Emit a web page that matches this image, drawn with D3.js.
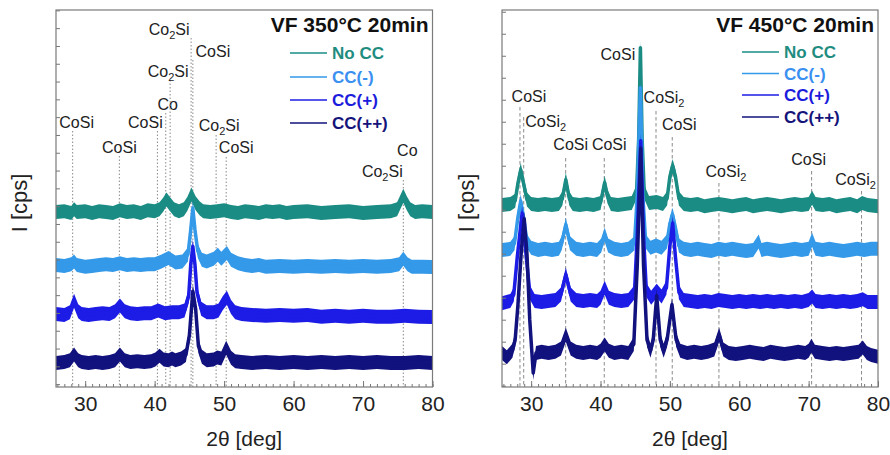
<!DOCTYPE html>
<html><head><meta charset="utf-8">
<script src="https://cdn.jsdelivr.net/npm/d3@7"></script>
<style>
body{margin:0;background:#fff;}
svg{display:block;font-family:Arial,"Liberation Sans",sans-serif;}
</style></head>
<body>
<svg id="c" width="890" height="455"></svg>
<script>
// ---------------- DATA ----------------
const seriesNames = ["No CC", "CC(-)", "CC(+)", "CC(++)"];
const xTickLabels = [30, 40, 50, 60, 70, 80];

// stacking offsets (cps) per series
const offsets350 = [967, 669, 394, 124];
const offsets450 = [821, 617, 385, 149];

// VF 350°C 20min  : [2θ (deg), intensity above baseline (cps)]
const noCC350 = [[25.8,0],[27,5],[28,-5],[28.4,15],[28.8,0],[30,5],[31,-5],[32,5],[33,0],[34,-5],[35,10],[36,0],[37,5],[38,-5],[39,10],[40,5],[40.7,15],[41.2,40],[41.7,70],[42.2,45],[42.8,15],[43.5,5],[44.2,15],[44.7,45],[45.3,98],[45.9,50],[46.5,20],[47,5],[48,0],[49,5],[50,10],[51,0],[52,-5],[53,5],[54,0],[55,-5],[56,5],[57,0],[58,5],[59,-5],[60,0],[62,5],[64,-5],[66,0],[68,5],[70,-5],[72,0],[74,5],[74.9,15],[75.3,50],[75.8,92],[76.3,50],[76.8,15],[77.5,0],[78.5,5],[80,0]];
const ccMinus350 = [[25.8,0],[27,-5],[28,5],[28.4,20],[28.8,0],[30,-10],[31,-5],[32,0],[33,5],[34,0],[35,10],[36,0],[37,5],[38,0],[39,5],[40,5],[41,20],[42,40],[43,15],[44,20],[44.8,60],[45.2,200],[45.5,320],[45.8,200],[46.2,80],[46.8,30],[47.5,20],[48.5,35],[49.1,58],[49.6,35],[50.4,68],[51,30],[52,10],[53,0],[54,-5],[55,0],[56,-10],[58,-5],[60,-10],[62,-5],[64,-10],[66,-5],[68,-10],[70,-5],[72,-10],[74,-5],[75.2,5],[75.8,36],[76.4,5],[77,-10],[78.5,-10],[80,-11]];
const ccPlus350 = [[25.8,0],[27,-5],[27.8,10],[28.4,74],[29.0,15],[29.5,0],[30.5,-5],[31.5,0],[32.5,5],[33.5,0],[34.3,15],[35,48],[35.7,15],[36.5,5],[37.5,0],[38.5,5],[39.5,5],[40.5,20],[41.5,5],[42.5,10],[43.5,10],[44.3,20],[44.9,100],[45.2,280],[45.5,380],[45.8,280],[46.1,120],[46.7,30],[47.5,10],[48.5,10],[49.2,20],[49.8,60],[50.4,92],[51.0,40],[51.6,10],[52.5,0],[54,-5],[56,-10],[58,-5],[60,-10],[62,-5],[64,-15],[66,-10],[68,-15],[70,-10],[72,-15],[74,-15],[76,-10],[78,-15],[80,-17]];
const ccPlusPlus350 = [[25.8,-5],[27,0],[27.8,10],[28.4,42],[29.0,10],[29.5,0],[30.5,-5],[31.5,0],[32.5,-5],[33.5,0],[34.3,10],[35,42],[35.7,10],[36.5,0],[37.5,5],[38.5,0],[39.5,5],[40.1,15],[40.7,36],[41.3,15],[42,10],[42.5,20],[43,10],[43.8,20],[44.5,40],[45,150],[45.5,398],[45.9,300],[46.3,90],[46.8,30],[47.5,10],[48.5,15],[49,26],[49.6,20],[50.3,80],[51.0,25],[51.6,5],[52.5,0],[54,-5],[56,0],[58,-5],[60,0],[62,-5],[64,0],[66,-5],[68,0],[70,-5],[72,0],[74,-5],[76,-5],[78,0],[80,-5]];

// VF 450°C 20min
const noCC450 = [[25.8,0],[27,5],[27.7,20],[28.1,100],[28.5,160],[28.9,100],[29.4,25],[30,5],[31,0],[32,5],[33,0],[34,5],[34.5,30],[35,115],[35.5,30],[36,5],[37,0],[38,5],[39,0],[40,10],[40.2,40],[40.6,102],[41.0,40],[41.5,5],[42.5,0],[43.5,5],[44.5,10],[45.2,60],[45.5,300],[45.75,715],[46.0,300],[46.3,60],[47,10],[48.1,14],[49,5],[49.6,30],[50.0,130],[50.4,178],[50.8,130],[51.3,30],[52,5],[53,0],[54,5],[55,-5],[56,0],[57,5],[58,0],[59,-5],[60,0],[61,5],[62,-5],[63,0],[64,5],[65,0],[66,-5],[67,0],[68,5],[69,0],[70,5],[70.5,33],[71,5],[72,0],[73,5],[74,-5],[75,0],[76,5],[77,-5],[77.7,10],[78.5,0],[80,-5]];
const ccMinus450 = [[25.8,0],[27,5],[27.6,30],[28.1,150],[28.5,222],[28.9,150],[29.4,40],[30,10],[31,0],[32,5],[33,0],[34,5],[34.4,30],[35,115],[35.6,30],[36.5,5],[37.5,0],[38.5,5],[39.5,0],[40.1,20],[40.6,70],[41.1,20],[42,5],[43,0],[44,5],[44.9,30],[45.3,250],[45.75,738],[46.1,250],[46.5,40],[47.2,10],[48,20],[48.8,10],[49.6,40],[50.0,120],[50.4,160],[50.8,100],[51.3,20],[52,5],[53,0],[54,5],[55,0],[56,-5],[57,5],[58,0],[59,5],[60,0],[61,-5],[62,0],[62.8,38],[63.2,0],[64,5],[65,0],[66,-5],[67,0],[68,5],[69,0],[70,5],[70.5,47],[71,5],[72,0],[73,5],[74,0],[75,-5],[76,0],[77,5],[78,0],[79,5],[80,5]];
const ccPlus450 = [[25.8,-10],[27,0],[27.5,30],[28.0,200],[28.7,400],[29.3,200],[29.8,40],[30.5,0],[31.5,-5],[32.5,0],[33.5,5],[34.3,30],[35,120],[35.7,30],[36.5,5],[37.5,0],[38.5,5],[39.5,0],[40.0,15],[40.6,60],[41.2,15],[42,5],[43,0],[44,5],[44.9,40],[45.3,300],[45.8,728],[46.2,300],[46.6,50],[47.3,15],[48.1,47],[48.8,20],[49.5,60],[50,250],[50.4,355],[50.8,200],[51.3,40],[52,5],[53,0],[54,-5],[55,0],[56,-5],[57,5],[58,0],[59,-5],[60,0],[61,-5],[62,0],[63,-5],[64,0],[65,-5],[66,0],[67,-5],[68,0],[69,-5],[70,5],[70.5,20],[71,0],[72,-5],[73,0],[74,-5],[75,0],[76,-5],[77,0],[77.8,8],[78.5,-5],[80,-5]];
const ccPlusPlus450 = [[25.8,0],[26.5,-20],[27.3,10],[27.7,60],[28.1,220],[28.6,470],[29.0,610],[29.4,450],[29.8,150],[30.3,-91],[30.7,0],[31.5,5],[32.5,0],[33.5,5],[34.3,20],[35,83],[35.7,20],[36.5,5],[37.5,0],[38.5,5],[39.5,0],[40.0,10],[40.6,38],[41.2,10],[42,0],[43,5],[44,0],[44.8,40],[45.3,400],[45.8,930],[46.2,400],[46.7,60],[47.2,10],[47.6,60],[48.1,260],[48.6,60],[49.1,10],[49.6,60],[50.3,220],[50.9,60],[51.5,10],[52.5,0],[53.5,5],[54.5,0],[55.5,5],[56.4,15],[57.1,83],[57.7,15],[58.5,0],[59.5,-5],[60.5,0],[61.5,5],[62.5,0],[63.5,-5],[64.5,5],[65.5,0],[66.5,-5],[67.5,0],[68.5,5],[69.5,0],[70,10],[70.4,33],[70.9,5],[72,0],[73,-5],[74,0],[75,-5],[76,0],[77.2,5],[77.8,25],[78.4,0],[79,-10],[80,-18]];

// phase identification markers: [phase, 2θ]
const phases350 = [["CoSi",28.2],["CoSi",34.92],["CoSi",40.4],["Co",41.6],["Co2Si",42.23],["Co2Si",45.25],["CoSi",45.5],["Co2Si",48.85],["CoSi",50.3],["Co",75.8],["Co2Si",75.8]];
const phases450 = [["CoSi",28.39],["CoSi2",28.93],["CoSi",34.98],["CoSi",40.54],["CoSi",45.68],["CoSi2",48.0],["CoSi",50.34],["CoSi2",57.07],["CoSi",70.43],["CoSi2",77.63]];

// ---------------- LAYOUT / STYLE ----------------
const colors = ["#1a8c84", "#3399e8", "#1c1ce6", "#12127e"];
const legendTextColors = ["#1f8c80", "#3a8ff0", "#1c1cdc", "#14147a"];
// label layout for markers: [dx from line, label baseline y, dashed line top y, draw line]
const labelLayout350 = [[4,128,131,1],[0,153,156,1],[-12,128,131,1],[2,110,113,1],[-2,77,80,1],[-22,35,38,1],[20,57,60,1],[3,131,135,1],[10,153,157,1],[4,156,159,0],[-21,177,180,1]];
const labelLayout450 = [[9,102,107,1],[22,127,117,1],[5,150,158,1],[5,150,158,1],[-22,60,62,0],[8,103,111,1],[7,130,137,1],[7,177,183,1],[-3,165,171,1],[-6,185,191,1]];

const panels = [
  {title:"VF 350°C 20min", left:56, right:432.5, series:[noCC350, ccMinus350, ccPlus350, ccPlusPlus350], offsets:offsets350,
   yDomain:[-16,2102], yTicks:d3.range(0,2101,100), phases:phases350, layout:labelLayout350, dash:"1.5,2",
   legendX:290, legendY:[53,77,100,123], yLabelX:20},
  {title:"VF 450°C 20min", left:502, right:878, series:[noCC450, ccMinus450, ccPlus450, ccPlusPlus450], offsets:offsets450,
   yDomain:[-6,1708], yTicks:d3.range(0,1701,100), phases:phases450, layout:labelLayout450, dash:"3.5,2.5",
   legendX:742, legendY:[52,73.5,95,117], yLabelX:467}
];
const plotTop = 10, plotBottom = 387, noiseH = 7;

const svg = d3.select("#c");
svg.append("rect").attr("width",890).attr("height",455).attr("fill","#fff");

function phaseText(sel, name){
  if (name === "Co2Si"){
    sel.append("tspan").text("Co");
    sel.append("tspan").attr("dy",4).attr("font-size",11).text("2");
    sel.append("tspan").attr("dy",-4).text("Si");
  } else if (name === "CoSi2"){
    sel.append("tspan").text("CoSi");
    sel.append("tspan").attr("dy",4).attr("font-size",11).text("2");
  } else sel.text(name);
}

panels.forEach((p, pi) => {
  const x = d3.scaleLinear().domain([25.8, 80]).range([p.left, p.right]);
  const y = d3.scaleLinear().domain(p.yDomain).range([plotBottom, plotTop]);
  const g = svg.append("g");
  const clipId = "clip"+pi;
  svg.append("clipPath").attr("id",clipId).append("rect")
    .attr("x",p.left).attr("y",plotTop).attr("width",p.right-p.left).attr("height",plotBottom-plotTop);

  // phase markers
  p.phases.forEach((ph, i) => {
    const L = p.layout[i];
    const xx = x(ph[1]);
    if (L[3]) g.append("line").attr("x1",xx).attr("x2",xx).attr("y1",L[2]).attr("y2",plotBottom)
      .attr("stroke","#8a8a8a").attr("stroke-width",1).attr("stroke-dasharray",p.dash);
    const t = g.append("text").attr("x",xx+L[0]).attr("y",L[1]).attr("text-anchor","middle")
      .attr("font-size",16).attr("fill","#222");
    phaseText(t, ph[0]);
  });

  // curves
  const cg = g.append("g").attr("clip-path",`url(#${clipId})`);
  p.series.forEach((s, si) => {
    const off = p.offsets[si];
    const area = d3.area().x(d=>x(d[0]))
      .y0(d=>y(d[1]+off)+noiseH).y1(d=>y(d[1]+off)-noiseH);
    const line = d3.line().x(d=>x(d[0])).y(d=>y(d[1]+off));
    cg.append("path").attr("d",area(s)).attr("fill",colors[si]);
    cg.append("path").attr("d",line(s)).attr("fill","none").attr("stroke",colors[si])
      .attr("stroke-width",3.5).attr("stroke-linejoin","round");
  });

  // axes
  const ax = g.append("g").attr("transform",`translate(0,${plotBottom})`);
  ax.call(d3.axisBottom(x).tickValues(d3.range(26,81,1)).tickSize(-3).tickFormat(""));
  ax.select(".domain").remove();
  const ax2 = g.append("g").attr("transform",`translate(0,${plotBottom})`);
  ax2.call(d3.axisBottom(x).tickValues(xTickLabels).tickSize(-6).tickPadding(9).tickFormat(d3.format("d")));
  ax2.select(".domain").remove();
  ax2.selectAll("text").attr("font-size",21).attr("fill","#222").attr("font-family","Arial, Liberation Sans, sans-serif");
  g.selectAll(".tick line").attr("stroke","#777");
  const ay = g.append("g").attr("transform",`translate(${p.left},0)`);
  ay.call(d3.axisLeft(y).tickValues(p.yTicks).tickSize(-4).tickFormat(""));
  ay.select(".domain").remove();
  ay.selectAll(".tick line").attr("stroke","#777");

  g.append("rect").attr("x",p.left).attr("y",plotTop).attr("width",p.right-p.left).attr("height",plotBottom-plotTop)
    .attr("fill","none").attr("stroke","#7a7a7a").attr("stroke-width",1.2);

  // title
  g.append("text").attr("x",p.right-4).attr("y",32).attr("text-anchor","end")
    .attr("font-size",21).attr("font-weight","bold").attr("fill","#111").text(p.title);

  // legend
  seriesNames.forEach((n, i) => {
    const ly = p.legendY[i];
    g.append("line").attr("x1",p.legendX).attr("x2",p.legendX+37).attr("y1",ly).attr("y2",ly)
      .attr("stroke",colors[i]).attr("stroke-width",1.5);
    g.append("text").attr("x",p.legendX+42).attr("y",ly+6).attr("font-size",17).attr("font-weight","bold")
      .attr("fill",legendTextColors[i]).text(n);
  });

  // axis titles
  g.append("text").attr("transform",`translate(${p.yLabelX+7},203) rotate(-90)`).attr("text-anchor","middle")
    .attr("font-size",22).attr("fill","#222").text("I [cps]");
  g.append("text").attr("x",(p.left+p.right)/2).attr("y",446).attr("text-anchor","middle")
    .attr("font-size",21).attr("fill","#222").text("2θ [deg]");
});
</script>
</body></html>
